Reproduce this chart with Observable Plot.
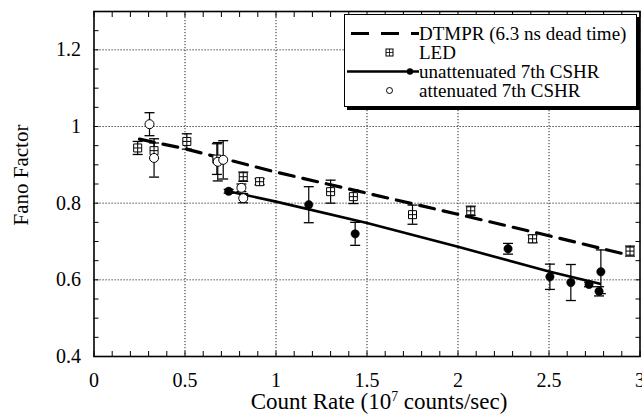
<!DOCTYPE html>
<html>
<head>
<meta charset="utf-8">
<script src="https://cdn.jsdelivr.net/npm/d3@7"></script>
<script src="https://cdn.jsdelivr.net/npm/@observablehq/plot@0.6"></script>
<style>
  body { margin: 0; background: #fff; }
  #wrap { position: relative; width: 642px; height: 420px; font-family: "Liberation Serif", serif; color: #000; }
  .xtitle { position: absolute; left: 379px; top: 391px; transform: translateX(-50%); font-size: 23px; line-height: 22px; white-space: nowrap; color: #000; }
  .xtitle sup { font-size: 0.6em; line-height: 0; vertical-align: 0.6em; }
  .legend { position: absolute; left: 344px; top: 14px; width: 291px; height: 91px; border: 1.5px solid #000; box-shadow: 3px 3px 0 #000; background: #fff; }
  .legend .row { position: absolute; left: 74px; font-size: 19px; line-height: 19px; white-space: nowrap; color: #000; }
  .legend svg { position: absolute; left: 0; top: 0; }
</style>
</head>
<body>
<div id="wrap"></div>
<script>
// ---- data ----
// DTMPR model (6.3 ns dead time), dashed line
const dtX = [0.25, 0.5, 1.0, 1.5, 2.0, 2.5, 2.9];
const dtY = [0.967, 0.942, 0.881, 0.826, 0.771, 0.715, 0.669];
// unattenuated 7th CSHR fit, solid line
const fitX = [0.73, 1.0, 1.5, 2.0, 2.5, 2.78];
const fitY = [0.832, 0.804, 0.748, 0.686, 0.622, 0.590];
// LED points
const ledX = [0.24, 0.33, 0.51, 0.675, 0.82, 0.91, 1.30, 1.425, 1.75, 2.07, 2.41, 2.945];
const ledY = [0.944, 0.937, 0.961, 0.915, 0.869, 0.856, 0.830, 0.817, 0.770, 0.780, 0.707, 0.675];
const ledE = [0.017, 0.02, 0.02, 0.04, 0.012, 0.008, 0.03, 0.018, 0.025, 0.012, 0.01, 0.013];
// unattenuated 7th CSHR points
const unX = [0.74, 1.18, 1.435, 2.275, 2.505, 2.62, 2.72, 2.775, 2.785];
const unY = [0.831, 0.796, 0.720, 0.681, 0.608, 0.593, 0.588, 0.570, 0.621];
const unE = [0.005, 0.047, 0.03, 0.014, 0.033, 0.047, 0.006, 0.012, 0.057];
// attenuated 7th CSHR points
const atX = [0.305, 0.33, 0.68, 0.71, 0.81, 0.82];
const atY = [1.006, 0.918, 0.908, 0.913, 0.840, 0.813];
const atE = [0.03, 0.05, 0.05, 0.05, 0.01, 0.012];
// axes
const xTicks = [0, 0.5, 1, 1.5, 2, 2.5, 3];
const yTicks = [0.4, 0.6, 0.8, 1, 1.2];
const xGrid = [0.5, 1, 1.5, 2, 2.5];
const yGrid = [0.6, 0.8, 1, 1.2];
const yTitle = "Fano Factor";
const legendLabels = ["DTMPR (6.3 ns dead time)", "LED", "unattenuated 7th CSHR", "attenuated 7th CSHR"];

const zip = (xs, ys, es) => xs.map((x, i) => ({x, y: ys[i], e: es ? es[i] : 0}));
const dt = zip(dtX, dtY);
const fit = zip(fitX, fitY);
const led = zip(ledX, ledY, ledE);
const un = zip(unX, unY, unE);
const at = zip(atX, atY, atE);
const errs = [...led, ...un, ...at];

const xMinor = d3.range(0, 31).map(i => i / 10);
const yMinor = d3.range(8, 27).map(i => i / 20);

const capSymbol = {draw(ctx, size) { const r = Math.sqrt(size / Math.PI); ctx.moveTo(-r, 0); ctx.lineTo(r, 0); }};
const boxPlus = {draw(ctx, size) {
  const r = Math.sqrt(size / Math.PI);
  ctx.rect(-r, -r, 2 * r, 2 * r);
  ctx.moveTo(-r, 0); ctx.lineTo(r, 0);
  ctx.moveTo(0, -r); ctx.lineTo(0, r);
}};

const fmt = d => String(d);

const chart = Plot.plot({
  width: 642, height: 420,
  marginLeft: 93.5, marginRight: 2.5, marginTop: 11, marginBottom: 64,
  x: {domain: [0, 3]},
  y: {domain: [0.4, 1.3]},
  style: {fontFamily: "Liberation Serif", fontSize: "20px", color: "#000", background: "#fff"},
  marks: [
    Plot.gridX(xGrid, {stroke: "#000", strokeOpacity: 0.85, strokeDasharray: "1.2,1.8", strokeWidth: 1}),
    Plot.gridY(yGrid, {stroke: "#000", strokeOpacity: 0.85, strokeDasharray: "1.2,1.8", strokeWidth: 1}),
    Plot.axisX(xMinor, {anchor: "bottom", tickSize: -5, tickFormat: () => "", label: null}),
    Plot.axisX(xMinor, {anchor: "top", tickSize: -5, tickFormat: () => "", label: null}),
    Plot.axisY(yMinor, {anchor: "left", tickSize: -5, tickFormat: () => "", label: null}),
    Plot.axisY(yMinor, {anchor: "right", tickSize: -5, tickFormat: () => "", label: null}),
    Plot.axisX(xTicks, {anchor: "bottom", tickSize: 0, tickPadding: 16, tickFormat: fmt, label: null, fill: "#000"}),
    Plot.axisY(yTicks, {anchor: "left", tickSize: 0, tickPadding: 13, tickFormat: fmt, label: null, fill: "#000"}),
    Plot.text([yTitle], {text: d => d, frameAnchor: "left", rotate: -90, dx: -72.5, dy: -9, fontSize: 21, fill: "#000", textAnchor: "middle", lineAnchor: "middle"}),
    Plot.line(dt, {x: "x", y: "y", stroke: "#000", strokeWidth: 3.2, strokeDasharray: "15,9"}),
    Plot.line(fit, {x: "x", y: "y", stroke: "#000", strokeWidth: 2.6}),
    Plot.ruleX(errs, {x: "x", y1: d => d.y - d.e, y2: d => d.y + d.e, stroke: "#000", strokeWidth: 1.2}),
    Plot.dot(errs, {x: "x", y: d => d.y - d.e, symbol: capSymbol, r: 5, stroke: "#000", strokeWidth: 1.3}),
    Plot.dot(errs, {x: "x", y: d => d.y + d.e, symbol: capSymbol, r: 5, stroke: "#000", strokeWidth: 1.3}),
    Plot.dot(led, {x: "x", y: "y", symbol: boxPlus, r: 4, fill: "#fff", stroke: "#000", strokeWidth: 1}),
    Plot.dot(un, {x: "x", y: "y", r: 4.2, fill: "#000", stroke: "#000", strokeWidth: 0.5}),
    Plot.dot(at, {x: "x", y: "y", r: 4.5, fill: "#fff", stroke: "#000", strokeWidth: 1}),
    Plot.frame({stroke: "#000", strokeWidth: 1.6})
  ]
});

const wrap = document.getElementById("wrap");
wrap.appendChild(chart);

const xt = document.createElement("div");
xt.className = "xtitle";
xt.innerHTML = "Count Rate (10<sup>7</sup> counts/sec)";
wrap.appendChild(xt);

// legend
const lg = document.createElement("div");
lg.className = "legend";
const rowTops = [9, 28, 47, 66];
const ns = "http://www.w3.org/2000/svg";
const sv = document.createElementNS(ns, "svg");
sv.setAttribute("width", 80); sv.setAttribute("height", 91);
sv.innerHTML = `
  <line x1="6" x2="74" y1="${rowTops[0] + 9.5}" y2="${rowTops[0] + 9.5}" stroke="#000" stroke-width="3" stroke-dasharray="18,12"/>
  <rect x="41" y="${rowTops[1] + 6}" width="7" height="7" fill="#fff" stroke="#000" stroke-width="1"/>
  <line x1="41" x2="48" y1="${rowTops[1] + 9.5}" y2="${rowTops[1] + 9.5}" stroke="#000" stroke-width="0.8"/>
  <line x1="44.5" x2="44.5" y1="${rowTops[1] + 6}" y2="${rowTops[1] + 13}" stroke="#000" stroke-width="0.8"/>
  <line x1="2" x2="74" y1="${rowTops[2] + 9.5}" y2="${rowTops[2] + 9.5}" stroke="#000" stroke-width="2.4"/>
  <circle cx="65" cy="${rowTops[2] + 9.5}" r="3.2" fill="#000"/>
  <circle cx="44.5" cy="${rowTops[3] + 9.5}" r="3" fill="#fff" stroke="#000" stroke-width="1"/>`;
lg.appendChild(sv);
legendLabels.forEach((t, i) => {
  const r = document.createElement("div");
  r.className = "row";
  r.style.top = rowTops[i] + "px";
  r.textContent = t;
  lg.appendChild(r);
});
wrap.appendChild(lg);
</script>
</body>
</html>
